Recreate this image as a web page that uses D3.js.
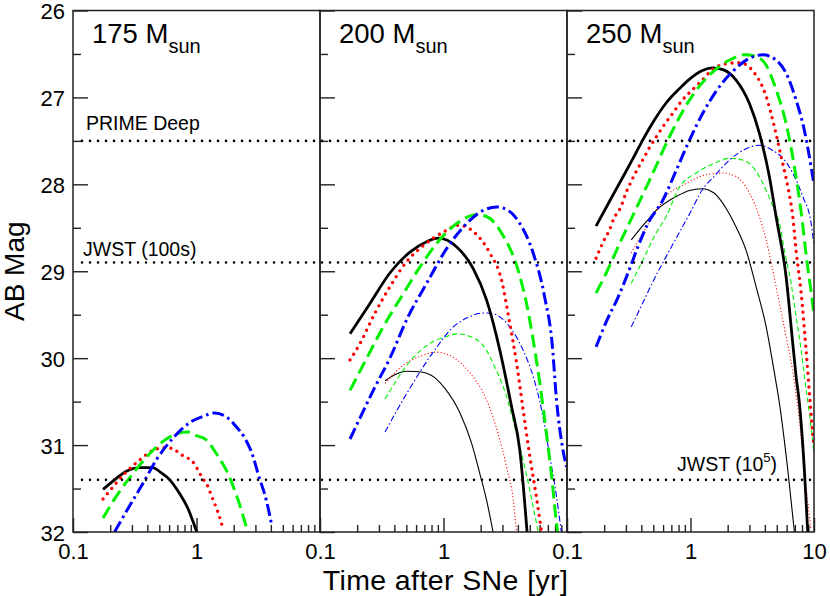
<!DOCTYPE html>
<html>
<head>
<meta charset="utf-8">
<script src="https://cdn.jsdelivr.net/npm/d3@7"></script>
<style>
  html, body { margin: 0; padding: 0; background: #fff; }
  svg { display: block; font-family: "Liberation Sans", Arial, Helvetica, sans-serif; }
</style>
</head>
<body>
<svg id="chart" width="830" height="596"></svg>
<script>
// ---------------- data ----------------
const masses = ["175", "200", "250"];
const yTicks = [26, 27, 28, 29, 30, 31, 32];
const yMinorTicks = [26.5, 27.5, 28.5, 29.5, 30.5, 31.5];
const xMajorTicks = [0.1, 1, 10];
const xMinorTicks = [0.2, 0.3, 0.4, 0.5, 0.6, 0.7, 0.8, 0.9, 2, 3, 4, 5, 6, 7, 8, 9];
const refLevels = [27.5, 28.9, 31.4];
const refLabels = ["PRIME Deep", "JWST (100s)", "JWST (10", "5", ")"];
const xTitle = "Time after SNe [yr]";
const yTitle = "AB Mag";

// 175 Msun (thick only)
const k175 = [[0.175,31.51],[0.217,31.40],[0.270,31.30],[0.347,31.26],[0.439,31.26],[0.519,31.32],[0.607,31.40],[0.731,31.56],[0.853,31.73],[0.937,31.88],[1.01,32.01]];
const r175 = [[0.175,31.62],[0.217,31.46],[0.270,31.31],[0.347,31.17],[0.445,31.06],[0.552,31.03],[0.645,31.04],[0.731,31.10],[0.853,31.15],[0.966,31.22],[1.047,31.31],[1.13,31.39],[1.24,31.48],[1.32,31.58],[1.40,31.67],[1.49,31.77],[1.64,31.96]];
const g175 = [[0.175,31.84],[0.224,31.59],[0.279,31.40],[0.347,31.23],[0.445,31.06],[0.570,30.93],[0.687,30.87],[0.853,30.85],[0.998,30.89],[1.20,30.94],[1.45,31.10],[1.80,31.33],[2.17,31.63],[2.53,31.94]];
const b175 = [[0.217,32.00],[0.279,31.73],[0.369,31.44],[0.473,31.17],[0.645,30.92],[0.908,30.73],[1.13,30.67],[1.40,30.63],[1.80,30.69],[2.10,30.79],[2.46,30.92],[2.87,31.13],[3.15,31.33],[3.67,31.63],[4.08,31.93]];

// 200 Msun thick
const k200 = [[0.175,29.72],[0.254,29.37],[0.368,29.02],[0.535,28.78],[0.73,28.66],[0.906,28.62],[1.28,28.72],[1.74,28.97],[2.23,29.33],[2.69,29.75],[2.86,29.91],[3.56,30.56],[4.15,31.06],[4.75,32.0]];
const r200 = [[0.175,30.02],[0.211,29.83],[0.279,29.48],[0.368,29.18],[0.502,28.89],[0.665,28.72],[0.995,28.55],[1.32,28.47],[1.80,28.56],[2.37,28.79],[2.95,29.10],[3.44,29.60],[3.9,30.05],[4.42,30.60],[5.0,31.13],[5.67,31.61],[6.2,31.98]];
const g200 = [[0.175,30.37],[0.239,30.0],[0.325,29.64],[0.458,29.29],[0.645,28.95],[0.879,28.68],[1.28,28.45],[1.85,28.35],[2.23,28.37],[2.95,28.56],[4.02,28.99],[4.70,29.37],[5.32,29.79],[6.03,30.29],[6.82,30.87],[7.51,31.36],[8.22,31.90],[8.4,32.0]];
const b200 = [[0.175,30.93],[0.217,30.65],[0.27,30.37],[0.368,30.0],[0.518,29.52],[0.73,29.14],[1.06,28.74],[1.45,28.49],[2.10,28.30],[2.69,28.26],[3.34,28.30],[4.15,28.45],[5.32,28.79],[6.6,29.30],[7.6,29.85],[8.22,30.48],[9.18,31.02],[9.9,31.25]];
// 200 Msun thin
const k200t = [[0.336,30.26],[0.502,30.15],[0.665,30.16],[0.858,30.23],[1.03,30.35],[1.36,30.63],[1.69,30.98],[1.97,31.33],[2.23,31.63],[2.52,32.0]];
const r200t = [[0.336,30.29],[0.473,30.08],[0.645,29.98],[0.879,29.93],[1.16,29.98],[1.64,30.17],[2.23,30.48],[2.77,30.87],[3.24,31.25],[3.67,31.63],[3.9,32.0]];
const g200t = [[0.336,30.47],[0.548,30.02],[0.776,29.83],[1.06,29.75],[1.28,29.72],[1.64,29.75],[2.23,29.91],[2.52,30.06],[3.24,30.44],[3.9,30.87],[4.68,31.33],[5.32,31.71],[5.85,32.0]];
const b200t = [[0.336,30.85],[0.502,30.41],[0.826,29.93],[1.20,29.64],[1.64,29.52],[2.10,29.48],[2.52,29.49],[3.44,29.64],[4.42,29.91],[5.32,30.21],[6.2,30.58],[7.26,31.13],[8.22,31.59],[9.0,32.0]];

// 250 Msun thick
const k250 = [[0.172,28.48],[0.22,28.2],[0.28,27.93],[0.34,27.71],[0.40,27.52],[0.5,27.28],[0.63,27.07],[0.8,26.91],[1.0,26.78],[1.25,26.69],[1.5,26.66],[1.83,26.68],[2.34,26.80],[3.0,27.07],[3.61,27.41],[4.35,27.91],[4.93,28.37],[5.94,29.06],[6.73,29.83],[7.16,30.21],[7.62,30.52],[8.36,31.29],[8.9,32.0]];
const r250 = [[0.172,28.85],[0.2,28.64],[0.22,28.53],[0.24,28.39],[0.273,28.26],[0.30,28.1],[0.33,27.97],[0.37,27.83],[0.41,27.72],[0.46,27.59],[0.53,27.45],[0.61,27.32],[0.72,27.18],[0.86,27.03],[1.04,26.91],[1.25,26.80],[1.5,26.68],[1.83,26.62],[2.49,26.60],[3.30,26.72],[4.10,26.99],[4.78,27.34],[5.42,27.68],[6.14,28.03],[6.73,28.37],[7.16,28.76],[7.87,29.25],[8.63,29.91],[9.3,30.5],[9.95,31.0]];
const g250 = [[0.172,29.25],[0.208,29.02],[0.267,28.68],[0.352,28.32],[0.496,27.87],[0.677,27.45],[0.982,27.03],[1.43,26.74],[2.07,26.57],[2.74,26.51],[3.4,26.53],[4.10,26.63],[4.93,26.91],[5.94,27.30],[6.94,27.80],[8.0,28.4],[8.7,28.85],[9.4,29.2],[10,29.5]];
const b250 = [[0.172,29.87],[0.208,29.58],[0.259,29.30],[0.312,29.02],[0.375,28.72],[0.452,28.45],[0.598,28.18],[0.766,27.84],[0.982,27.49],[1.26,27.18],[1.61,26.93],[2.2,26.70],[3.0,26.55],[3.85,26.51],[4.93,26.57],[5.94,26.72],[7.16,27.03],[8.36,27.38],[9.48,27.80],[10,28.0]];
// 250 Msun thin
const k250t = [[0.331,28.64],[0.438,28.43],[0.527,28.30],[0.766,28.14],[0.982,28.07],[1.24,28.05],[1.55,28.10],[1.95,28.28],[2.34,28.49],[2.82,28.76],[3.40,29.18],[4.10,29.64],[4.78,30.17],[5.25,30.52],[6.14,31.29],[6.94,32.0]];
const r250t = [[0.331,28.79],[0.412,28.56],[0.496,28.37],[0.636,28.14],[0.923,27.99],[1.34,27.89],[1.83,27.87],[2.34,27.91],[3.0,28.10],[3.61,28.37],[4.10,28.64],[4.64,28.99],[5.25,29.37],[5.94,29.75],[6.73,30.15],[7.3,30.5],[7.87,30.9],[8.63,31.48],[9.48,31.98]];
const g250t = [[0.331,29.14],[0.412,28.87],[0.527,28.56],[0.636,28.37],[0.815,28.03],[1.11,27.87],[1.55,27.76],[2.07,27.70],[2.65,27.72],[3.40,27.85],[4.10,28.07],[4.78,28.30],[5.25,28.45],[5.76,28.76],[6.53,29.14],[7.16,29.52],[7.87,29.91],[8.36,30.21],[9.3,30.7],[10,31.1]];
const b250t = [[0.331,29.64],[0.412,29.36],[0.496,29.12],[0.598,28.90],[0.766,28.62],[1.0,28.32],[1.25,28.06],[1.55,27.91],[2.07,27.72],[2.82,27.59],[3.61,27.55],[4.64,27.61],[5.60,27.70],[6.73,27.87],[8.11,28.14],[9.48,28.45],[10,28.7]];

// ---------------- layout & style ----------------
const W = 830, H = 596;
const plotLeft = 73, panelW = 247, plotTop = 10.5, plotBottom = 532;
const colors = { k: "#000000", r: "#ff0000", g: "#00f000", b: "#0000ff" };
const thickStyle = {
  k: { w: 2.8, dash: null, cap: "butt" },
  r: { w: 3.4, dash: "0,6.8", cap: "round" },
  g: { w: 3.0, dash: "13,6", cap: "butt" },
  b: { w: 3.0, dash: "12,4,2.6,4", cap: "butt" }
};
const thinStyle = {
  k: { w: 1.1, dash: null, cap: "butt" },
  r: { w: 1.1, dash: "1.1,2.2", cap: "butt" },
  g: { w: 1.1, dash: "5,3", cap: "butt" },
  b: { w: 1.1, dash: "6,2.5,1.5,2.5", cap: "butt" }
};
const panelSeries = [
  { thick: { k: k175, r: r175, g: g175, b: b175 }, thin: {} },
  { thick: { k: k200, r: r200, g: g200, b: b200 }, thin: { k: k200t, r: r200t, g: g200t, b: b200t } },
  { thick: { k: k250, r: r250, g: g250, b: b250 }, thin: { k: k250t, r: r250t, g: g250t, b: b250t } }
];

const svg = d3.select("#chart");
const y = d3.scaleLinear().domain([26, 32]).range([plotTop, plotBottom]);
const fullX0 = plotLeft, fullX1 = plotLeft + 3 * panelW;

masses.forEach((m, i) => {
  const x0 = plotLeft + i * panelW;
  const x = d3.scaleLog().domain([0.1, 10]).range([x0, x0 + panelW]);
  const g = svg.append("g");

  const clipId = "clip" + i;
  svg.append("clipPath").attr("id", clipId)
    .append("rect").attr("x", x0).attr("y", plotTop).attr("width", panelW).attr("height", plotBottom - plotTop);

  g.append("g").attr("transform", `translate(${x0},0)`)
    .call(d3.axisLeft(y).tickValues(yMinorTicks).tickSize(-8).tickFormat(""))
    .call(s => s.select(".domain").remove());
  g.append("g").attr("class", "yaxis").attr("transform", `translate(${x0},0)`)
    .call(d3.axisLeft(y).tickValues(yTicks).tickSize(-15).tickPadding(8)
      .tickFormat(i === 0 ? d3.format("d") : () => ""))
    .call(s => s.select(".domain").remove())
    .call(s => s.selectAll("text").attr("dy", "0.38em"));
  g.append("g").attr("transform", `translate(0,${plotBottom})`)
    .call(d3.axisBottom(x).tickValues(xMinorTicks).tickSize(-7).tickFormat(""))
    .call(s => s.select(".domain").remove());
  const majors = i === 2 ? xMajorTicks : xMajorTicks.slice(0, 2);
  g.append("g").attr("class", "xaxis").attr("transform", `translate(0,${plotBottom})`)
    .call(d3.axisBottom(x).tickValues(majors).tickSize(-14).tickPadding(11)
      .tickFormat(d => d < 1 ? "0.1" : d3.format("d")(d)))
    .call(s => s.select(".domain").remove());

  g.selectAll(".tick line").attr("stroke", "#222").attr("stroke-width", 1.4);
  g.selectAll(".tick text").attr("font-size", 22).attr("fill", "#000")
    .attr("font-family", "Liberation Sans, Arial, sans-serif");

  const line = d3.line().x(d => x(d[0])).y(d => y(d[1])).curve(d3.curveMonotoneX);
  const cg = g.append("g").attr("clip-path", `url(#${clipId})`);
  const drawSet = (set, styles) => {
    ["k", "r", "g", "b"].forEach(c => {
      if (!set[c]) return;
      const st = styles[c];
      cg.append("path").datum(set[c]).attr("d", line)
        .attr("fill", "none").attr("stroke", colors[c]).attr("stroke-width", st.w)
        .attr("stroke-linecap", st.cap).attr("stroke-linejoin", "round")
        .attr("stroke-dasharray", st.dash);
    });
  };
  drawSet(panelSeries[i].thin, thinStyle);
  drawSet(panelSeries[i].thick, thickStyle);

  const t = g.append("text").attr("x", x0 + 19).attr("y", 43).attr("font-size", 27.5).attr("fill", "#000");
  t.append("tspan").text(m + " M");
  t.append("tspan").attr("dy", 10).attr("font-size", 20).text("sun");
});

svg.append("g").selectAll("line").data(refLevels).join("line")
  .attr("x1", fullX0 + 9).attr("x2", fullX1).attr("y1", d => y(d)).attr("y2", d => y(d))
  .attr("stroke", "#000").attr("stroke-width", 2.6).attr("stroke-linecap", "round")
  .attr("stroke-dasharray", "0,8");

svg.append("g").selectAll("rect").data(masses).join("rect")
  .attr("x", (d, i) => plotLeft + i * panelW).attr("y", plotTop)
  .attr("width", panelW).attr("height", plotBottom - plotTop)
  .attr("fill", "none").attr("stroke", "#222").attr("stroke-width", 1.5);

svg.append("text").attr("x", 86).attr("y", y(refLevels[0]) - 11).attr("font-size", 19.5).text(refLabels[0]);
svg.append("text").attr("x", 83).attr("y", y(refLevels[1]) - 7).attr("font-size", 19.5).text(refLabels[1]);
const jl = svg.append("text").attr("x", 677).attr("y", y(refLevels[2]) - 9).attr("font-size", 19.5);
jl.append("tspan").text(refLabels[2]);
jl.append("tspan").attr("dy", -9).attr("font-size", 13).text(refLabels[3]);
jl.append("tspan").attr("dy", 9).text(refLabels[4]);

svg.append("text").attr("x", plotLeft + 1.5 * panelW + 2).attr("y", 590).attr("text-anchor", "middle")
  .attr("font-size", 28.5).attr("letter-spacing", 0.4).text(xTitle);
svg.append("text").attr("transform", `translate(24,${(plotTop + plotBottom) / 2}) rotate(-90)`)
  .attr("text-anchor", "middle").attr("font-size", 28).text(yTitle);
</script>
</body>
</html>
